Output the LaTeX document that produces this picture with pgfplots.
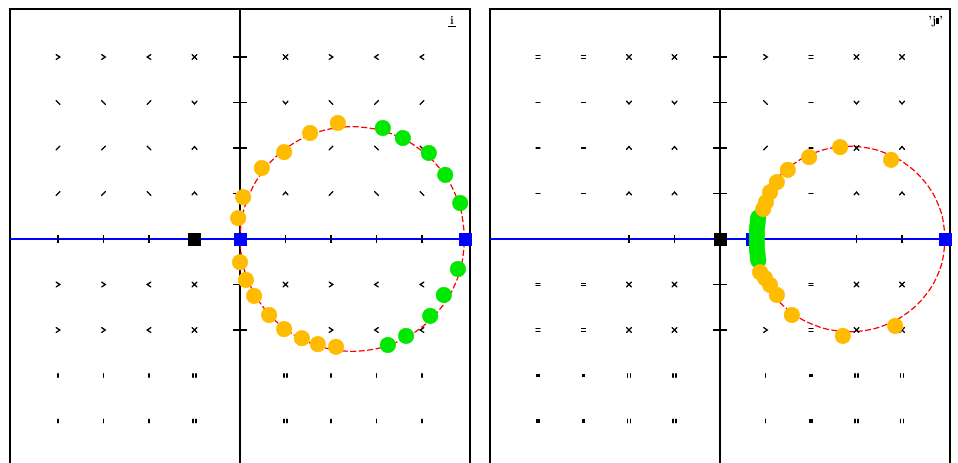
\documentclass[border=0pt]{standalone}
\usepackage{pgfplots}
\pgfplotsset{compat=1.18}

\definecolor{ptorange}{RGB}{255,187,0}
\definecolor{ptgreen}{RGB}{0,232,0}
\definecolor{locus}{RGB}{255,0,0}
\definecolor{realaxis}{RGB}{0,0,255}

% small direction glyphs on the integer lattice, as plot marks
\newcommand\glyphstroke{\pgfsetlinewidth{1.3bp}\pgfsetroundcap}
\pgfdeclareplotmark{gR}{\glyphstroke
  \pgfpathmoveto{\pgfpoint{-1.8bp}{2.4bp}}\pgfpathlineto{\pgfpoint{1.8bp}{0bp}}%
  \pgfpathlineto{\pgfpoint{-1.8bp}{-2.4bp}}\pgfusepathqstroke}
\pgfdeclareplotmark{gL}{\glyphstroke
  \pgfpathmoveto{\pgfpoint{1.8bp}{2.4bp}}\pgfpathlineto{\pgfpoint{-1.8bp}{0bp}}%
  \pgfpathlineto{\pgfpoint{1.8bp}{-2.4bp}}\pgfusepathqstroke}
\pgfdeclareplotmark{gX}{\glyphstroke
  \pgfpathmoveto{\pgfpoint{-2.3bp}{-2.3bp}}\pgfpathlineto{\pgfpoint{2.3bp}{2.3bp}}%
  \pgfpathmoveto{\pgfpoint{-2.3bp}{2.3bp}}\pgfpathlineto{\pgfpoint{2.3bp}{-2.3bp}}\pgfusepathqstroke}
\pgfdeclareplotmark{gB}{\glyphstroke
  \pgfpathmoveto{\pgfpoint{-2bp}{2bp}}\pgfpathlineto{\pgfpoint{2bp}{-2bp}}\pgfusepathqstroke}
\pgfdeclareplotmark{gS}{\glyphstroke
  \pgfpathmoveto{\pgfpoint{-2bp}{-2bp}}\pgfpathlineto{\pgfpoint{2bp}{2bp}}\pgfusepathqstroke}
\pgfdeclareplotmark{gU}{\glyphstroke
  \pgfpathmoveto{\pgfpoint{-2.5bp}{-1.4bp}}\pgfpathlineto{\pgfpoint{0bp}{1.4bp}}%
  \pgfpathlineto{\pgfpoint{2.5bp}{-1.4bp}}\pgfusepathqstroke}
\pgfdeclareplotmark{gV}{\glyphstroke
  \pgfpathmoveto{\pgfpoint{-2.5bp}{1.4bp}}\pgfpathlineto{\pgfpoint{0bp}{-1.4bp}}%
  \pgfpathlineto{\pgfpoint{2.5bp}{1.4bp}}\pgfusepathqstroke}
\pgfdeclareplotmark{gE}{\glyphstroke
  \pgfpathmoveto{\pgfpoint{-2bp}{1.3bp}}\pgfpathlineto{\pgfpoint{2bp}{1.3bp}}%
  \pgfpathmoveto{\pgfpoint{-2bp}{-1.3bp}}\pgfpathlineto{\pgfpoint{2bp}{-1.3bp}}\pgfusepathqstroke}
\pgfdeclareplotmark{gM}{\glyphstroke
  \pgfpathmoveto{\pgfpoint{-2bp}{0bp}}\pgfpathlineto{\pgfpoint{2bp}{0bp}}\pgfusepathqstroke}
\pgfdeclareplotmark{gQ}{%
  \pgfpathrectangle{\pgfpoint{-1.9bp}{-1.9bp}}{\pgfpoint{3.8bp}{3.8bp}}\pgfusepathqfill}
\pgfdeclareplotmark{gI}{\glyphstroke
  \pgfpathmoveto{\pgfpoint{0bp}{-1.8bp}}\pgfpathlineto{\pgfpoint{0bp}{1.8bp}}\pgfusepathqstroke}
\pgfdeclareplotmark{gJ}{\glyphstroke
  \pgfpathmoveto{\pgfpoint{-1.6bp}{-1.8bp}}\pgfpathlineto{\pgfpoint{-1.6bp}{1.8bp}}%
  \pgfpathmoveto{\pgfpoint{1.6bp}{-1.8bp}}\pgfpathlineto{\pgfpoint{1.6bp}{1.8bp}}\pgfusepathqstroke}

\tikzset{cornerlabel/.style={font=\fontsize{12}{12}\selectfont\bfseries, inner sep=0pt}}

\pgfplotsset{
  panel/.style={scale only axis, width=460.5bp, height=461bp,
    xmin=-5.066, xmax=5.055, ymin=-5.066, ymax=5.066,
    ticks=none, axis line style={line width=2bp}, clip=true},
  glyphs/.style={only marks, scatter, point meta=explicit symbolic,
    scatter/classes={
      R={mark=gR, black}, L={mark=gL, black}, X={mark=gX, black},
      B={mark=gB, black}, S={mark=gS, black}, U={mark=gU, black},
      V={mark=gV, black}, E={mark=gE, black}, M={mark=gM, black},
      Q={mark=gQ, black}, I={mark=gI, black}, J={mark=gJ, black}}},
  imaxis/.style={black, line width=1.8bp},
  reaxis/.style={realaxis, line width=1.6bp},
  reticks/.style={only marks, black, mark=|, mark size=4bp, mark options={line width=1.4bp}},
  imticks/.style={only marks, black, mark=-, mark size=7bp, mark options={line width=1.4bp}},
  locusline/.style={locus, line width=1.2bp, dash pattern=on 6bp off 2.5bp, smooth},
  opts/.style={only marks, ptorange, mark=*, mark size=7.8bp, mark options={ptorange}},
  gpts/.style={only marks, ptgreen, mark=*, mark size=7.8bp, mark options={ptgreen}},
  sqblack/.style={only marks, black, mark=square*, mark size=6bp},
  sqblue/.style={only marks, realaxis, mark=square*, mark size=6bp},
}

\begin{document}
\begin{tikzpicture}

% ---------------- left panel ----------------
\begin{axis}[panel, at={(9.5bp,-469.5bp)}, anchor=south west]
\addplot[glyphs] coordinates {
 (-4,4)[R] (-3,4)[R] (-2,4)[L] (-1,4)[X] (1,4)[X] (2,4)[R] (3,4)[L] (4,4)[L]
 (-4,3)[B] (-3,3)[B] (-2,3)[S] (-1,3)[V] (1,3)[V] (2,3)[B] (3,3)[S] (4,3)[S]
 (-4,2)[S] (-3,2)[S] (-2,2)[B] (-1,2)[U] (1,2)[U] (2,2)[S] (3,2)[B] (4,2)[B]
 (-4,1)[S] (-3,1)[S] (-2,1)[B] (-1,1)[U] (1,1)[U] (2,1)[S] (3,1)[B] (4,1)[B]
 (-4,-1)[R] (-3,-1)[R] (-2,-1)[L] (-1,-1)[X] (1,-1)[X] (2,-1)[R] (3,-1)[L] (4,-1)[L]
 (-4,-2)[R] (-3,-2)[R] (-2,-2)[L] (-1,-2)[X] (1,-2)[X] (2,-2)[R] (3,-2)[L] (4,-2)[L]
 (-4,-3)[I] (-3,-3)[I] (-2,-3)[I] (-1,-3)[J] (1,-3)[J] (2,-3)[I] (3,-3)[I] (4,-3)[I]
 (-4,-4)[I] (-3,-4)[I] (-2,-4)[I] (-1,-4)[J] (1,-4)[J] (2,-4)[I] (3,-4)[I] (4,-4)[I]
};
\addplot[imaxis] coordinates {(0,-6) (0,6)};
\addplot[reaxis] coordinates {(-6,0) (6,0)};
\addplot[reticks] coordinates {(-4,0) (-3,0) (-2,0) (1,0) (2,0) (3,0) (4,0)};
\addplot[imticks] coordinates {(0,4) (0,3) (0,2) (0,1) (0,-1) (0,-2)};
\addplot[locusline] coordinates {
 (4.94,0) (4.856,0.640) (4.609,1.235) (4.216,1.747) (3.705,2.139) (3.110,2.386)
 (2.47,2.47) (1.830,2.386) (1.235,2.139) (0.724,1.747) (0.331,1.235) (0.084,0.640)
 (0,0) (0.084,-0.640) (0.331,-1.235) (0.724,-1.747) (1.235,-2.139) (1.830,-2.386)
 (2.47,-2.47) (3.110,-2.386) (3.705,-2.139) (4.216,-1.747) (4.609,-1.235) (4.856,-0.640)
 (4.94,0)};
\addplot[opts] coordinates {
 (2.15,2.55) (1.54,2.33) (0.97,1.91) (0.48,1.56) (0.07,0.92) (-0.04,0.46)
 (0.0,-0.51) (0.13,-0.90) (0.31,-1.25) (0.64,-1.67) (0.97,-1.98) (1.36,-2.18)
 (1.71,-2.31) (2.11,-2.37)};
\addplot[gpts] coordinates {
 (3.14,2.44) (3.58,2.22) (4.15,1.89) (4.51,1.41) (4.84,0.79)
 (4.79,-0.66) (4.48,-1.23) (4.18,-1.69) (3.65,-2.13) (3.25,-2.33)};
\addplot[sqblack] coordinates {(-1,0)};
\addplot[sqblue] coordinates {(0,0) (4.95,0)};
\node[cornerlabel] at (rel axis cs:0.961,0.972) {\underline{\,i\,}};
\end{axis}

% ---------------- right panel ----------------
\begin{axis}[panel, at={(489.5bp,-469.5bp)}, anchor=south west]
\addplot[glyphs] coordinates {
 (-4,4)[E] (-3,4)[E] (-2,4)[X] (-1,4)[X] (1,4)[R] (2,4)[E] (3,4)[X] (4,4)[X]
 (-4,3)[M] (-3,3)[M] (-2,3)[V] (-1,3)[V] (1,3)[B] (2,3)[M] (3,3)[V] (4,3)[V]
 (-4,2)[M] (-3,2)[M] (-2,2)[U] (-1,2)[U] (1,2)[S] (2,2)[M] (3,2)[X] (4,2)[U]
 (-4,1)[M] (-3,1)[M] (-2,1)[U] (-1,1)[U] (1,1)[S] (2,1)[M] (3,1)[U] (4,1)[U]
 (-4,-1)[E] (-3,-1)[E] (-2,-1)[X] (-1,-1)[X] (1,-1)[R] (2,-1)[E] (3,-1)[X] (4,-1)[X]
 (-4,-2)[E] (-3,-2)[E] (-2,-2)[X] (-1,-2)[X] (1,-2)[R] (2,-2)[E] (3,-2)[X] (4,-2)[X]
 (-4,-3)[Q] (-3,-3)[Q] (-2,-3)[J] (-1,-3)[J] (1,-3)[I] (2,-3)[Q] (3,-3)[J] (4,-3)[J]
 (-4,-4)[Q] (-3,-4)[Q] (-2,-4)[J] (-1,-4)[J] (1,-4)[I] (2,-4)[Q] (3,-4)[J] (4,-4)[J]
};
\addplot[imaxis] coordinates {(0,-6) (0,6)};
\addplot[reaxis] coordinates {(-6,0) (6,0)};
\addplot[reticks] coordinates {(-2,0) (-1,0) (3,0) (4,0)};
\addplot[imticks] coordinates {(0,4) (0,3) (0,2) (0,1) (0,-1) (0,-2)};
\addplot[locusline] coordinates {
 (4.95,0) (4.878,0.528) (4.669,1.020) (4.335,1.442) (3.900,1.767) (3.394,1.970)
 (2.85,2.04) (2.306,1.970) (1.800,1.767) (1.365,1.442) (1.031,1.020) (0.822,0.528)
 (0.75,0) (0.822,-0.528) (1.031,-1.020) (1.365,-1.442) (1.800,-1.767) (2.306,-1.970)
 (2.85,-2.04) (3.394,-1.970) (3.900,-1.767) (4.335,-1.442) (4.669,-1.020) (4.878,-0.528)
 (4.95,0)};
\addplot[sqblue] coordinates {(0.70,0) (4.95,0)};
\addplot[gpts] coordinates {
 (0.84,0.47) (0.83,0.38) (0.82,0.29) (0.81,0.20) (0.81,0.10) (0.81,0.0)
 (0.81,-0.10) (0.81,-0.20) (0.82,-0.29) (0.83,-0.38) (0.84,-0.47)};
\addplot[opts] coordinates {
 (2.64,2.02) (3.76,1.74) (1.96,1.80) (1.49,1.52) (1.25,1.25) (1.10,1.03)
 (1.01,0.81) (0.95,0.66)
 (0.88,-0.73) (0.99,-0.86) (1.10,-1.01) (1.25,-1.23) (1.58,-1.67) (2.70,-2.13)
 (3.85,-1.91)};
\addplot[sqblack] coordinates {(0,0)};
\node[cornerlabel] at (rel axis cs:0.969,0.972) {'j\rule{3pt}{6pt}'};
\end{axis}

\pgfresetboundingbox
\path[use as bounding box] (0,0) rectangle (958bp,-463bp);
\end{tikzpicture}
\end{document}
